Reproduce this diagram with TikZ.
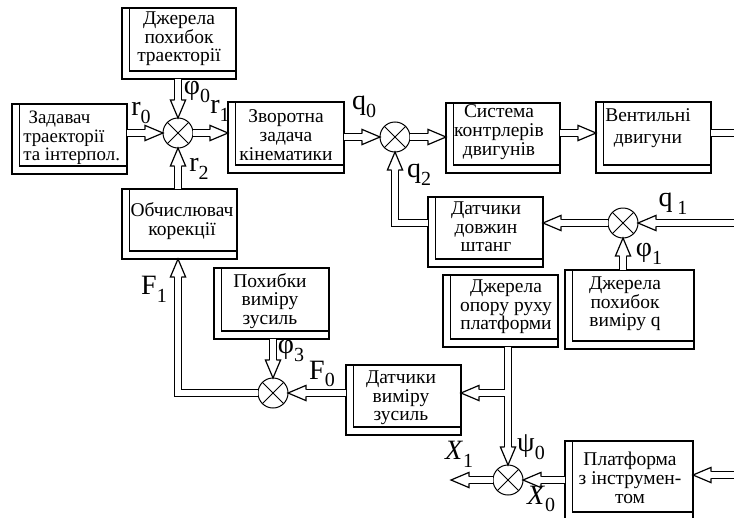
\documentclass[tikz,border=0pt]{standalone}
\usepackage{fontspec}
\setmainfont{Liberation Serif}
\usetikzlibrary{fit,calc}
% signal name with a lowered index
\newcommand\sig[2]{#1\raisebox{-0.28em}{\fontsize{15}{15}\selectfont #2}}
\tikzset{
  blk/.style={draw, line width=0.9pt, inner sep=0pt, outer sep=0pt,
    path picture={\draw[line width=0.9pt]
      ([xshift=5.6pt]path picture bounding box.north west) |-
      ([yshift=6pt]path picture bounding box.south east);}},
  txt/.style={align=center, inner sep=0pt, font=\fontsize{14.6}{14}\selectfont},
  sum/.style={circle, draw, line width=0.75pt, minimum size=22.5pt, inner sep=0pt, outer sep=0pt,
    path picture={\draw[line width=0.75pt]
      (path picture bounding box.north west) -- (path picture bounding box.south east)
      (path picture bounding box.north east) -- (path picture bounding box.south west);}},
  flow/.style={line width=5.8pt, line join=miter, line cap=butt,
    postaction={draw=white, line width=4.1pt}},
  tip/.style={flow, shorten >=13.5pt},
  lab/.style={inner sep=0pt, font=\fontsize{21}{21}\selectfont},
  head/.pic={\draw[line width=0.9pt, fill=white]
     (-18,3.27) -- (-18,7.6) -- (0,0) -- (-18,-7.6) -- (-18,-3.27);},
}
\begin{document}
\begin{tikzpicture}[x=0.75pt,y=-0.75pt]
\useasboundingbox (0,0) rectangle (734,517);
\clip (0,0) rectangle (734,517);

% blocks
\node[blk, fit={(122,8) (236,79)}]   (dj)   {};
\node[blk, fit={(12,104) (127,174)}] (zad)  {};
\node[blk, fit={(122,189) (237,259)}] (obch) {};
\node[blk, fit={(228,102) (344,173)}] (zv)   {};
\node[blk, fit={(446,103) (560,173)}] (sys)  {};
\node[blk, fit={(596,102) (711,173)}] (vent) {};
\node[blk, fit={(428,197) (543,267)}] (ddov) {};
\node[blk, fit={(565,270) (694,349)}] (djq)  {};
\node[blk, fit={(443,275) (558,347)}] (jop)  {};
\node[blk, fit={(214,268) (329,339)}] (pvz)  {};
\node[blk, fit={(346,365) (461,435)}] (dvz)  {};
\node[blk, fit={(565,441) (693,520)}] (pl)   {};

% block texts
\node[txt] (djt)   at (179,39)  {Джерела\\похибок\\траекторії};
\node[txt, align=left, anchor=west, font=\fontsize{14.2}{14}\selectfont] (zadt) at (23,138) {\hspace*{4pt}Задавач\\траекторії\\та інтерпол.};
\node[txt] (obcht) at (182,221) {Обчислювач\\корекції};
\node[txt] (zvt)   at (286,135) {Зворотна\\задача\\кінематики};
\node[txt] (syst)  at (499,132) {Система\\контрлерів\\двигунів};
\node[txt, font=\fontsize{14.6}{16.5}\selectfont] (ventt) at (648,128) {Вентильні\\двигуни};
\node[txt] (ddovt) at (486,227) {Датчики\\довжин\\штанг};
\node[txt] (djqt)  at (625,304) {Джерела\\похибок\\виміру q};
\node[txt] (jopt)  at (506,307) {Джерела\\опору руху\\платформи};
\node[txt] (pvzt)  at (270,301) {Похибки\\виміру\\зусиль};
\node[txt] (dvzt)  at (401,398) {Датчики\\виміру\\зусиль};
\node[txt] (plt)   at (630,478) {Платформа\\з інструмен-\\том};

% summing junctions
\node[sum] (j1) at (178,133) {};
\node[sum] (j2) at (395,137) {};
\node[sum] (j3) at (623,223) {};
\node[sum] (j4) at (508,480) {};
\node[sum] (j5) at (273,393) {};

% free ends at the border
\coordinate (vout) at (734,133);
\coordinate (qin)  at (734,223);
\coordinate (pin)  at (734,475);
\coordinate (xout) at (451,480);

% signal paths
\draw[tip] (zad.east |- j1) -- (j1.west);
\pic at (j1.west) {head};
\draw[tip] (dj.south -| j1) -- (j1.north);
\pic[rotate=-90] at (j1.north) {head};
\draw[tip] (obch.north -| j1) -- (j1.south);
\pic[rotate=90] at (j1.south) {head};
\draw[tip] (j1.east) -- (zv.west |- j1);
\pic at (zv.west |- j1) {head};

\draw[tip] (zv.east |- j2) -- (j2.west);
\pic at (j2.west) {head};
\draw[tip] (j2.east) -- (sys.west |- j2);
\pic at (sys.west |- j2) {head};
\draw[tip] (sys.east |- vout) -- (vent.west |- vout);
\pic at (vent.west |- vout) {head};
\draw[flow] (vent.east |- vout) -- (vout);

\draw[tip] (qin) -- (j3.east);
\pic[rotate=180] at (j3.east) {head};
\draw[tip] (j3.west) -- (ddov.east |- j3);
\pic[rotate=180] at (ddov.east |- j3) {head};
\draw[tip] (ddov.west |- j3) -| (j2.south);
\pic[rotate=90] at (j2.south) {head};
\draw[tip] (djq.north -| j3) -- (j3.south);
\pic[rotate=90] at (j3.south) {head};

\draw[tip] (jop.south -| j4) -- ($(j4.north)+(0,-18)$)
           (j4 |- j5) -- (dvz.east |- j5);
\pic[rotate=-90] at (j4.north) {head};
\pic[rotate=180] at (dvz.east |- j5) {head};

\draw[tip] (pvz.south -| j5) -- (j5.north);
\pic[rotate=-90] at (j5.north) {head};
\draw[tip] (dvz.west |- j5) -- (j5.east);
\pic[rotate=180] at (j5.east) {head};
\draw[tip] (j5.west) -| (obch.south -| j1);
\pic[rotate=90] at (obch.south -| j1) {head};

\draw[tip] (pl.west |- j4) -- (j4.east);
\pic[rotate=180] at (j4.east) {head};
\draw[tip] (j4.west) -- (xout);
\pic[rotate=180] at (xout) {head};
\draw[tip] (pin) -- (pl.east |- pin);
\pic[rotate=180] at (pl.east |- pin) {head};

% signal labels
\node[lab] (lr0) at (141,113) {\sig{r}{0}};
\node[lab] (lr1) at (220,111) {\sig{r}{1}};
\node[lab] (lf0) at (197,92)  {\sig{φ}{0}};
\node[lab] (lr2) at (199,169) {\sig{r}{2}};
\node[lab] (lq0) at (364,107) {\sig{q}{0}};
\node[lab] (lq2) at (419,175) {\sig{q}{2}};
\node[lab] (lq1) at (673,204) {\sig{q\,}{1}};
\node[lab] (lf1) at (649,254) {\sig{φ}{1}};
\node[lab] (lF1) at (154,289) {\sig{F}{1}};
\node[lab] (lf3) at (291,351) {\sig{φ}{3}};
\node[lab] (lF0) at (322,374) {\sig{F}{0}};
\node[lab] (lp0) at (531,447) {\sig{ψ}{0}};
\node[lab] (lX1) at (459,454) {\sig{\textit{X}}{1}};
\node[lab] (lX0) at (541,499) {\sig{\textit{X}}{0}};
\end{tikzpicture}
\end{document}
